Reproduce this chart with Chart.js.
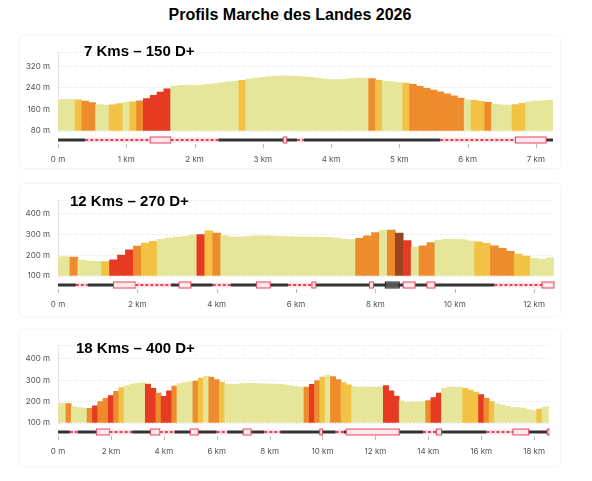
<!DOCTYPE html>
<html>
<head>
<meta charset="utf-8">
<script src="https://cdn.jsdelivr.net/npm/chart.js@4.4.0/dist/chart.umd.min.js"></script>
<style>
  body { margin: 0; background: #fff; font-family: "Liberation Sans", Arial, sans-serif; }
  .title { position: absolute; left: 0; width: 580px; top: 6px; text-align: center; font-weight: bold; font-size: 16px; }
  .card { position: absolute; left: 20px; width: 540px; border-radius: 4px; box-shadow: 0 0 3px rgba(0,0,0,0.10); }
  .wrap { position: absolute; left: 0; width: 561px; }
  .label { position: absolute; font-weight: bold; font-size: 15px; color: #000; }
</style>
</head>
<body>
<div class="title">Profils Marche des Landes 2026</div>

<div class="card" style="top:36px;height:132px"></div>
<div class="card" style="top:184px;height:132px"></div>
<div class="card" style="top:330px;height:136px"></div>

<div class="wrap" style="top:40px;height:125px"><canvas id="c1"></canvas></div>
<div class="wrap" style="top:188px;height:122px"><canvas id="c2"></canvas></div>
<div class="wrap" style="top:333px;height:124px"><canvas id="c3"></canvas></div>

<div class="label" style="left:84px;top:42px">7 Kms – 150 D+</div>
<div class="label" style="left:70px;top:192px">12 Kms – 270 D+</div>
<div class="label" style="left:76px;top:339px">18 Kms – 400 D+</div>

<script>
// elevation (m), sampled every step km
const step1 = 0.1;
const elev1 = [196,197,197,196,191,185,178,176,177,182,186,188,192,200,212,224,236,246,249,249,
  249,250,253,256,259,262,265,268,273,276,279,282,284,285,284,283,281,279,276,273,
  271,271,272,274,276,276,274,268,264,262,260,258,253,246,238,232,225,218,210,202,
  196,194,190,186,180,177,176,178,183,188,191,193,195,196];

const step2 = 0.2;
const elev2 = [192,193,190,176,171,170,169,178,200,225,243,257,266,275,282,286,290,297,298,316,
  305,293,288,288,290,292,292,291,290,289,288,287,286,285,285,282,277,274,280,292,
  308,320,320,305,270,240,245,260,272,276,276,274,268,264,256,245,232,218,205,195,
  185,180,187,190];

const step3 = 0.2;
const elev3 = [192,193,190,176,172,170,168,180,200,215,228,248,265,275,281,285,288,282,262,240,
  224,250,272,284,288,292,296,310,318,314,302,290,282,280,282,284,285,285,284,283,
  282,281,280,278,275,270,268,268,280,298,314,322,316,302,288,278,270,268,268,267,
  268,270,274,250,225,203,196,197,198,200,205,218,240,262,268,268,267,262,253,244,
  233,215,200,190,184,178,172,172,170,163,158,165,174,178];

// path surface segments [startKm, endKm, type]  r = dashed, b = boxed, g = grey box
const track1 = [[0.4,1.35,'r'],[1.35,1.65,'b'],[1.65,2.35,'r'],[3.3,3.35,'b'],[3.5,3.6,'r'],
  [5.6,6.7,'r'],[6.7,7.15,'b']];
const track2 = [[0.45,0.75,'r'],[1.4,1.95,'b'],[1.95,2.85,'r'],[3.05,3.35,'b'],[3.9,4.35,'r'],
  [5.0,5.35,'b'],[5.8,6.4,'r'],[6.4,6.5,'b'],[7.85,7.95,'b'],[8.25,8.6,'g'],[8.7,9.0,'b'],
  [9.3,9.5,'b'],[11.0,12.2,'r'],[12.2,12.55,'b']];
const track3 = [[0.45,0.75,'r'],[1.45,1.95,'b'],[1.95,2.8,'r'],[3.5,3.85,'b'],[3.85,4.4,'r'],
  [5.0,5.3,'b'],[6.0,6.4,'r'],[7.0,7.3,'b'],[7.8,8.4,'r'],[9.9,10.0,'b'],[10.5,10.8,'r'],
  [10.9,12.9,'b'],[13.8,14.3,'r'],[14.3,14.5,'b'],[16.2,17.2,'r'],[17.2,17.8,'b'],[18.5,18.6,'b']];

function slopeColor(pct) {
  const a = Math.abs(pct);
  if (a < 4) return '#e6e69b';
  if (a < 6) return '#f2c244';
  if (a < 9) return '#ee8c2d';
  if (a < 16) return '#e63a22';
  return '#9a4422';
}

const trackPlugin = {
  id: 'track',
  afterDatasetsDraw(chart, args, opts) {
    const ctx = chart.ctx, xs = chart.scales.x, area = chart.chartArea;
    const y = area.bottom + 9;
    ctx.save();
    ctx.strokeStyle = '#333'; ctx.lineWidth = 3;
    ctx.beginPath(); ctx.moveTo(area.left, y); ctx.lineTo(area.right, y); ctx.stroke();
    opts.segments.forEach(([s, e, t]) => {
      const x0 = xs.getPixelForValue(s), x1 = Math.min(xs.getPixelForValue(e), area.right);
      ctx.fillStyle = t === 'g' ? '#555' : '#fbe3e8';
      ctx.fillRect(x0, y - 2.5, x1 - x0, 5);
      if (t === 'r') {
        ctx.strokeStyle = '#e8405a'; ctx.lineWidth = 2; ctx.setLineDash([3, 2]);
        ctx.beginPath(); ctx.moveTo(x0, y); ctx.lineTo(x1, y); ctx.stroke();
        ctx.setLineDash([]);
      } else {
        ctx.strokeStyle = t === 'g' ? '#222' : '#e8405a'; ctx.lineWidth = 1;
        ctx.strokeRect(x0, y - 3, x1 - x0, 6);
        if (t === 'b') {
          ctx.strokeStyle = '#fff'; ctx.lineWidth = 1.5; ctx.setLineDash([1.5, 2]);
          ctx.beginPath(); ctx.moveTo(x0 + 2, y); ctx.lineTo(x1 - 2, y); ctx.stroke();
          ctx.setLineDash([]);
        }
      }
    });
    // small tick marks under the track
    ctx.strokeStyle = '#bbb'; ctx.lineWidth = 1;
    xs.ticks.forEach(t => {
      const x = Math.round(xs.getPixelForValue(t.value)) + 0.5;
      ctx.beginPath(); ctx.moveTo(x, y + 4); ctx.lineTo(x, y + 8); ctx.stroke();
    });
    ctx.restore();
  }
};

function makeProfile(id, elev, stepKm, track, yMin, yMax, yStep, xMax, xStep) {
  const pts = elev.map((v, i) => ({ x: +(i * stepKm).toFixed(2), y: v }));
  const colors = elev.map((v, i) => {
    const j = i < elev.length - 1 ? i : i - 1;
    const pct = (elev[j + 1] - elev[j]) / (stepKm * 1000) * 100;
    return slopeColor(pct);
  });
  new Chart(document.getElementById(id), {
    type: 'bar',
    data: {
      datasets: [{
        data: pts,
        backgroundColor: colors,
        borderWidth: 0,
        barPercentage: 1,
        categoryPercentage: 1,
        base: yMin
      }]
    },
    options: {
      responsive: true,
      maintainAspectRatio: false,
      animation: false,
      layout: { padding: { top: 2, right: 0, left: 0, bottom: 0 } },
      plugins: { legend: { display: false }, tooltip: { enabled: false }, track: { segments: track } },
      scales: {
        x: {
          type: 'linear', min: 0, max: xMax, offset: false,
          afterFit: axis => { axis.height = 34; },
          afterBuildTicks: axis => {
            const t = [];
            for (let v = 0; v <= xMax; v += xStep) t.push({ value: v });
            axis.ticks = t;
          },
          grid: { display: false }, border: { display: false },
          ticks: {
            stepSize: xStep, padding: 16, color: '#555', font: { size: 8, family: 'Inter' },
            maxRotation: 0, autoSkip: false,
            callback: v => (v === 0 ? '0 m' : v + ' km')
          }
        },
        y: {
          min: yMin, max: yMax,
          afterFit: axis => { axis.width = 58; },
          grid: { color: '#dddddd', drawTicks: false },
          border: { color: '#e4e4ee', dash: [1, 2] },
          ticks: {
            stepSize: yStep, padding: 8, color: '#555', font: { size: 8, family: 'Inter' },
            callback: v => v % yStep === 0 ? v + ' m' : ''
          }
        }
      }
    },
    plugins: [trackPlugin]
  });
}

makeProfile('c1', elev1, step1, track1, 80, 370, 80, 7.25, 1);
makeProfile('c2', elev2, step2, track2, 100, 460, 100, 12.5, 2);
makeProfile('c3', elev3, step3, track3, 100, 460, 100, 18.56, 2);
</script>
</body>
</html>
